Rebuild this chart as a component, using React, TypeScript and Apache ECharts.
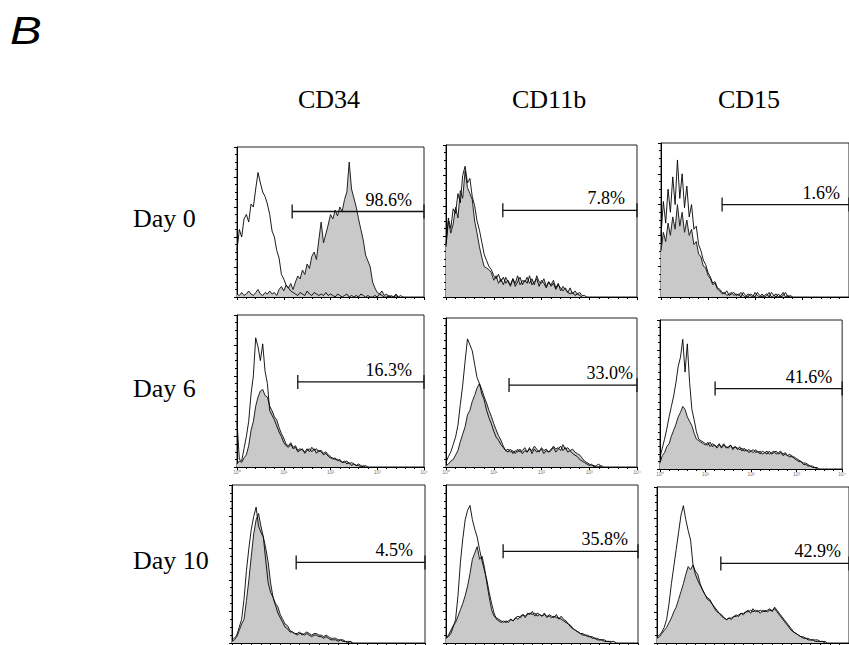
import React, { useEffect, useRef } from "react";
import * as echarts from "echarts";

// Flow cytometry histograms: fluorescence in log decades (0..4), counts as % of panel height
const markers = ["CD34", "CD11b", "CD15"];
const days = ["Day 0", "Day 6", "Day 10"];
const binStep = 0.05; // decades per bin

// Day 0
const cd34D0Stained = [2,1,3,1,2,4,2,1,3,5,2,1,3,2,4,2,3,1,5,7,4,8,6,9,5,10,14,12,18,15,22,19,27,30,25,38,50,36,42,48,55,52,58,54,60,57,65,70,90,72,66,60,52,45,38,28,24,20,10,6,3,2,4,1,2,0,1,0,2,0,1,0];
const cd34D0Control = [31,45,40,52,55,50,62,60,72,83,76,70,67,62,55,44,40,31,26,15,12,8,6,4,3,2,1,3,2,1,4,2,1,3,2,1,2,1,3,1,2,1,0,2,1,0,1,2,0,1,0,1,0,2,1,0,1,0,0,1,0,2,1,0,0,1,0,0,1,0];
const cd11bD0Stained = [33,50,42,48,59,52,70,65,83,72,68,64,50,42,33,26,20,19,18,16,11,14,9,12,8,13,10,7,12,9,14,8,11,10,13,9,12,8,14,10,9,12,7,10,8,11,6,9,4,7,5,3,6,2,4,2,3,1,1,0];
const cd11bD0Control = [35,52,45,58,55,68,62,80,86,75,78,66,60,50,44,36,28,24,20,18,14,12,15,10,13,9,11,8,12,7,10,13,8,11,9,14,8,10,12,7,11,9,6,10,7,9,5,8,6,4,6,3,2,3,1,2,1,0];
const cd15D0Stained = [30,42,36,48,40,52,44,60,46,55,42,50,40,44,34,36,28,26,20,19,14,12,8,9,5,4,2,3,1,2,3,1,2,1,3,1,0,2,1,0,3,1,0,2,0,1,3,0,1,2,0,1,3,0,1,0];
const cd15D0Control = [40,62,48,70,55,78,60,89,64,80,58,72,52,60,44,46,34,30,24,21,16,13,9,10,6,5,3,2,4,1,2,3,1,2,0,3,1,0,2,1,0,3,1,0,1,2,0,3,1,0,2,0,1,3,0,1,0];
// Day 6
const cd34D6Stained = [2,4,3,6,8,14,24,30,40,46,50,51,47,46,40,37,33,31,26,22,19,15,14,16,13,14,11,12,11,10,12,10,13,11,12,10,11,9,10,8,7,5,6,4,5,3,3,4,2,3,2,1,2,1,0,1,0];
const cd34D6Control = [30,5,4,12,20,30,48,60,85,79,70,81,63,55,37,34,31,27,23,20,16,14,13,15,12,13,10,11,12,9,11,12,10,12,9,11,10,8,9,7,6,6,5,5,4,3,4,2,3,1,2,1,1,0,1,0];
const cd11bD6Stained = [1,2,4,5,8,11,17,22,27,35,38,44,48,53,56,52,47,43,38,34,29,25,21,18,14,11,12,10,11,9,12,10,11,13,10,12,11,14,12,10,13,11,12,10,11,14,12,13,11,15,12,13,11,12,10,9,8,6,4,3,2,1,1,0,0,1,0];
const cd11bD6Control = [3,7,10,15,20,28,42,55,71,86,82,78,69,60,56,49,45,38,33,29,24,20,18,15,13,11,10,12,9,11,10,12,9,11,10,13,9,12,10,11,12,9,11,10,12,13,10,12,14,11,13,10,11,9,8,7,5,4,3,2,1,2,0,1,2,0];
const cd15D6Stained = [4,9,11,15,17,22,26,30,35,38,42,40,35,32,29,24,20,19,18,17,16,18,15,17,16,14,16,15,17,14,15,16,14,15,13,15,12,14,12,13,12,11,13,11,12,10,11,12,10,11,12,10,11,12,10,11,9,10,8,8,7,6,5,4,4,3,2,2,1,1,0];
const cd15D6Control = [8,14,20,27,35,42,49,58,69,75,87,65,84,58,40,33,25,20,19,18,17,16,18,15,16,15,17,14,16,15,14,16,13,15,14,13,14,12,13,11,12,13,11,12,10,12,11,10,12,10,11,12,10,11,9,10,9,8,9,7,6,5,5,3,3,2,2,1,1,0];
// Day 10
const cd34D10Stained = [1,2,4,8,12,15,27,40,55,69,78,82,74,67,60,51,38,29,25,23,18,15,12,11,8,7,6,6,7,5,6,7,6,5,6,6,5,5,4,5,4,3,3,3,2,2,2,1,1,1,0];
const cd34D10Control = [2,3,5,10,15,28,46,60,72,80,86,74,70,67,52,38,32,29,24,19,16,13,10,9,7,7,6,5,6,6,5,6,5,4,5,5,4,4,3,4,3,2,2,2,1,2,1,1,0,1,0];
const cd11bD10Stained = [3,5,8,11,13,17,21,25,30,36,44,53,57,61,53,55,48,38,29,21,17,16,15,14,13,14,13,15,14,16,15,17,18,16,19,18,20,17,19,18,17,19,16,18,17,16,18,15,17,15,14,12,11,9,8,7,6,6,5,5,4,4,3,3,2,2,2,1,1,1,1,0];
const cd11bD10Control = [3,4,6,10,15,30,51,66,78,84,87,78,72,67,59,52,46,40,32,25,19,15,14,13,14,13,14,15,14,16,17,16,18,17,18,19,18,19,17,18,17,18,17,17,16,17,16,16,15,14,13,12,10,9,8,7,6,5,5,4,4,3,3,2,2,2,1,1,1,0];
const cd15D10Stained = [3,4,6,8,10,13,16,20,23,28,33,38,44,49,47,50,46,44,38,34,31,29,28,25,23,21,19,18,16,15,16,15,17,17,18,19,18,20,21,19,22,20,21,19,21,20,21,22,20,23,21,19,17,15,13,11,9,7,6,5,4,4,3,3,2,2,2,2,1,1,1,0];
const cd15D10Control = [4,5,7,10,15,25,38,49,60,71,82,88,79,72,66,50,44,40,37,34,31,28,27,25,22,20,19,17,16,15,16,16,17,18,17,19,19,20,20,21,20,21,20,21,20,21,20,21,21,22,20,18,16,14,12,10,8,7,6,5,4,3,3,2,2,2,1,1,1,1,0];

const stainedSets = [cd34D0Stained, cd11bD0Stained, cd15D0Stained, cd34D6Stained, cd11bD6Stained, cd15D6Stained, cd34D10Stained, cd11bD10Stained, cd15D10Stained];
const controlSets = [cd34D0Control, cd11bD0Control, cd15D0Control, cd34D6Control, cd11bD6Control, cd15D6Control, cd34D10Control, cd11bD10Control, cd15D10Control];

// gate (positive region) start in decades, bar level, and percentage
const gateStart = [1.18, 1.19, 1.3, 1.3, 1.32, 1.21, 1.33, 1.19, 1.33];
const gateLevel = [57, 57, 60, 56, 55, 54, 51, 58, 51];
const gatePct = ["98.6%", "7.8%", "1.6%", "16.3%", "33.0%", "41.6%", "4.5%", "35.8%", "42.9%"];
const decadeLabels = ["10\u2070", "10\u00b9", "10\u00b2", "10\u00b3", "10\u2074"];

// layout (pixels)
const panelRects = [
  { l: 237, t: 147, w: 187, h: 150, dx: -12 },
  { l: 446, t: 145, w: 191, h: 152, dx: -12 },
  { l: 661, t: 143, w: 188, h: 154, dx: -9 },
  { l: 237, t: 315, w: 187, h: 152, dx: -12 },
  { l: 446, t: 318, w: 191, h: 149, dx: -4 },
  { l: 660, t: 320, w: 189, h: 149, dx: -10 },
  { l: 232, t: 485, w: 193, h: 158, dx: -12 },
  { l: 446, t: 485, w: 192, h: 158, dx: -10 },
  { l: 657, t: 487, w: 192, h: 156, dx: -8 },
];
const headerX = [298, 512, 718];
const headerY = 99;
const rowLabelX = 133;
const rowLabelY = [218, 388, 560];

const toPairs = (arr: number[]) => arr.map((v, k) => [+(k * binStep).toFixed(2), v]);

function buildOption() {
  const grid: any[] = [];
  const xAxis: any[] = [];
  const yAxis: any[] = [];
  const series: any[] = [];
  panelRects.forEach((r, i) => {
    const row = Math.floor(i / 3);
    grid.push({
      left: r.l, top: r.t, width: r.w, height: r.h,
      show: true, borderColor: "#222", borderWidth: 1, backgroundColor: "transparent",
    });
    xAxis.push({
      gridIndex: i, type: "value", min: 0, max: 4, interval: 1,
      axisLine: { show: true, onZero: false, lineStyle: { color: "#000", width: 1 } },
      axisTick: { show: true, length: 3, lineStyle: { color: "#000" } },
      minorTick: { show: true, splitNumber: 5, length: 2, lineStyle: { color: "#000" } },
      splitLine: { show: false },
      axisLabel: row === 1
        ? { show: true, fontSize: 5, color: "#777", margin: 2, formatter: (v: number) => decadeLabels[v] }
        : { show: false },
    });
    yAxis.push({
      gridIndex: i, type: "value", min: 0, max: 100, interval: 20,
      axisLine: { show: true, lineStyle: { color: "#000", width: 1 } },
      axisTick: { show: true, length: 3, lineStyle: { color: "#000" } },
      minorTick: { show: true, splitNumber: 4, length: 2, lineStyle: { color: "#000" } },
      splitLine: { show: false },
      axisLabel: { show: false },
    });
    series.push({
      type: "line", xAxisIndex: i, yAxisIndex: i, data: toPairs(stainedSets[i]),
      symbol: "none", silent: true, z: 2,
      lineStyle: { color: "#222", width: 1 },
      areaStyle: { color: "#c9c9c9", opacity: 1 },
    });
    series.push({
      type: "line", xAxisIndex: i, yAxisIndex: i, data: toPairs(controlSets[i]),
      symbol: "none", silent: true, z: 3,
      lineStyle: { color: "#000", width: 0.9 },
    });
    series.push({
      type: "line", xAxisIndex: i, yAxisIndex: i, clip: false, silent: true, z: 4,
      symbol: "rect", symbolSize: [1.3, 14],
      itemStyle: { color: "#111" },
      lineStyle: { color: "#111", width: 1.3 },
      data: [
        { value: [gateStart[i], gateLevel[i]] },
        {
          value: [4, gateLevel[i]],
          label: {
            show: true, position: "top", distance: 0, align: "right",
            offset: [r.dx, 4], formatter: gatePct[i],
            fontFamily: "Liberation Serif", fontSize: 18, color: "#000",
          },
        },
      ],
    });
  });

  const graphic: any[] = [
    { type: "text", x: 10, y: 31, scaleX: 1.25, style: { text: "B", font: 'italic 38px "Liberation Sans"', fill: "#000", verticalAlign: "middle" } },
  ];
  markers.forEach((m, k) => {
    graphic.push({ type: "text", x: headerX[k], y: headerY, style: { text: m, font: '26px "Liberation Serif"', fill: "#000", verticalAlign: "middle" } });
  });
  days.forEach((d, k) => {
    graphic.push({ type: "text", x: rowLabelX, y: rowLabelY[k], style: { text: d, font: '26px "Liberation Serif"', fill: "#000", verticalAlign: "middle" } });
  });

  return { animation: false, backgroundColor: "#fff", grid, xAxis, yAxis, series, graphic };
}

export default function App() {
  const ref = useRef<HTMLDivElement>(null);
  useEffect(() => {
    if (!ref.current) return;
    const chart = echarts.init(ref.current, undefined, { renderer: "svg" });
    chart.setOption(buildOption() as any);
    return () => chart.dispose();
  }, []);
  return <div ref={ref} style={{ position: "absolute", left: 0, top: 0, width: 849, height: 645 }} />;
}
